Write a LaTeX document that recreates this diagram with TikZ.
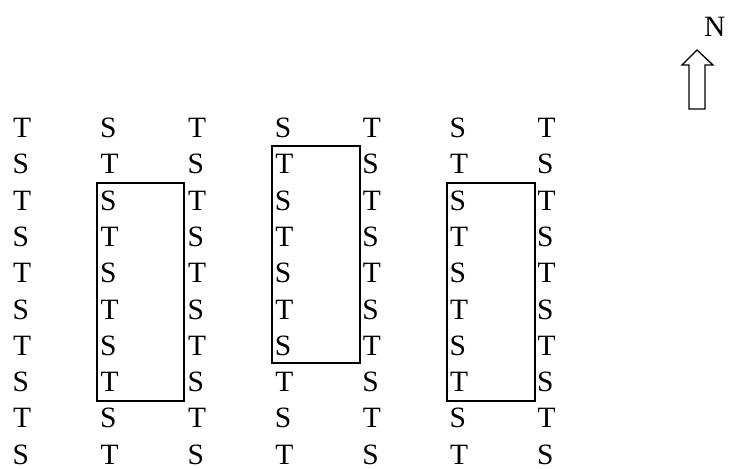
\documentclass[tikz,border=0pt]{standalone}
\usepackage{fontspec}
\setmainfont{Liberation Serif}
\usepackage{tikz}

\begin{document}
\begin{tikzpicture}[
    x=1pt, y=-1pt,
    letter/.style={anchor=base west, inner sep=0pt, font=\fontsize{29.5}{29.5}\selectfont},
    block/.style={draw=black, line width=2pt},
    northarrow/.style={draw=black, line width=1.3pt, line join=miter}
  ]
    \useasboundingbox (0,0) rectangle (730,468);
    % grid of letters
    \foreach \r in {1,...,10} {
      \foreach \c in {1,...,7} {
        \pgfmathparse{int(mod(\r+\c,2))}
        \ifnum\pgfmathresult=0
          \node[letter] (l-\r-\c) at ({13+(\c-1)*87.4},{137.5+(\r-1)*36.3}) {T};
        \else
          \node[letter] (l-\r-\c) at ({12.5+(\c-1)*87.4},{137.5+(\r-1)*36.3}) {S};
        \fi
      }
    }
    % boxed blocks
    \draw[block] (97,183) rectangle (184,401);
    \draw[block] (272,146) rectangle (360,363);
    \draw[block] (447,183) rectangle (535,401);
    % north marker
    \node[letter] (north) at (704,37) {N};
    \draw[northarrow] (689,109) -- (689,65) -- (682,65) -- (697,50) -- (713,65)
      -- (705,65) -- (705,109) -- cycle;
  \end{tikzpicture}
\end{document}
